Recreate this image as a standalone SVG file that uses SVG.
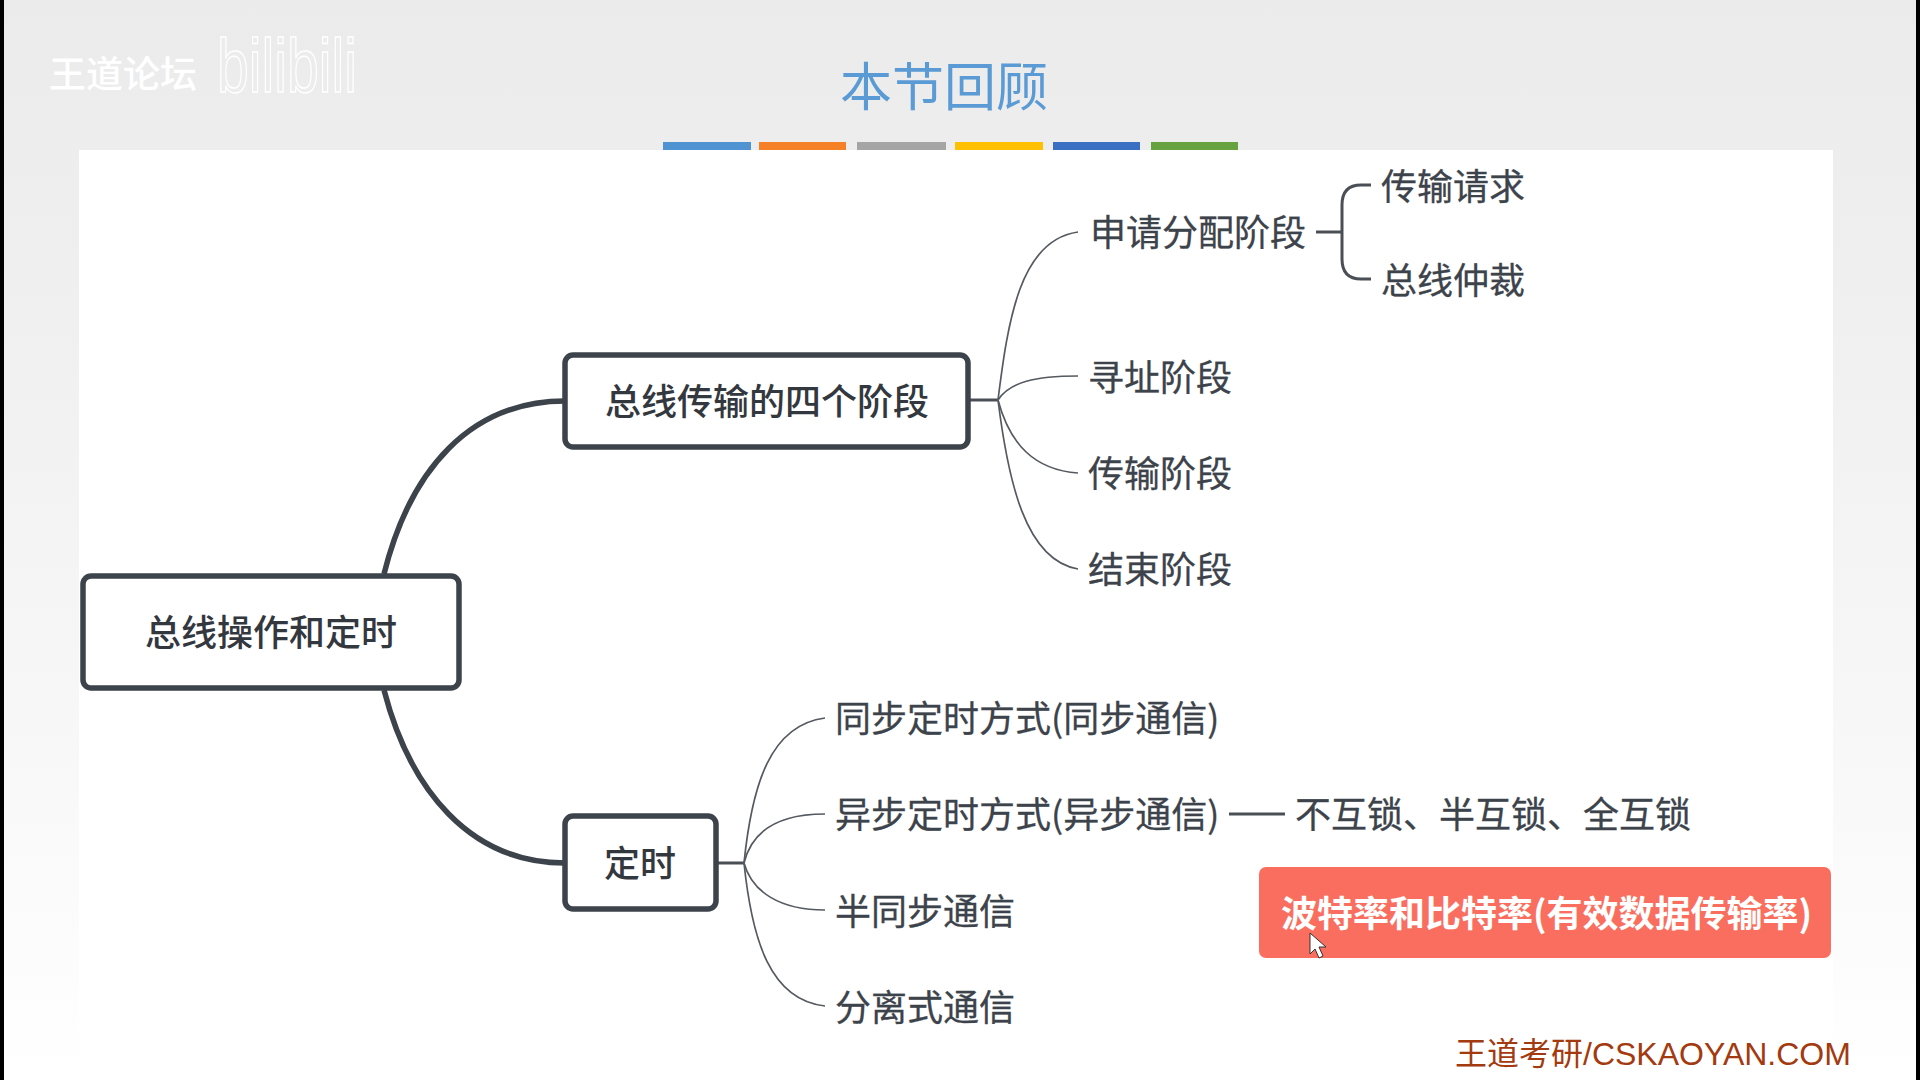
<svg xmlns="http://www.w3.org/2000/svg" width="1920" height="1080" viewBox="0 0 1920 1080">
<defs>
<linearGradient id="bg" x1="0" y1="0" x2="0" y2="1"><stop offset="0" stop-color="#ebebeb"/><stop offset="0.3" stop-color="#f0f0f0"/><stop offset="0.7" stop-color="#f8f8f8"/><stop offset="1" stop-color="#ffffff"/></linearGradient>
</defs>
<style>
text{font-family:"Noto Sans CJK SC","Liberation Sans",sans-serif}
.box{fill:#fff;stroke:#3d434b;stroke-width:5.5}
.main{font-size:36px;font-weight:500;fill:#33383f;text-anchor:middle;dominant-baseline:central}
.leaf{font-size:36px;fill:#3d434b;stroke:#3d434b;stroke-width:0.3;dominant-baseline:central}
.thick{fill:none;stroke:#3d434b;stroke-width:5.5}
.thin{fill:none;stroke:#555a60;stroke-width:1.7}
.mid{fill:none;stroke:#4a4f56;stroke-width:3}
</style>
<rect width="1920" height="1080" fill="url(#bg)"/>
<rect x="79" y="150" width="1754" height="930" fill="#fff"/>
<rect x="0" y="0" width="4" height="1080" fill="#000"/>
<rect x="1916" y="0" width="4" height="1080" fill="#000"/>
<g id="title">
<text x="944" y="83" font-size="52" fill="#5b9bd5" text-anchor="middle" dominant-baseline="central">本节回顾</text>
<rect x="663" y="142" width="88" height="8" fill="#4f93d2"/>
<rect x="759" y="142" width="87" height="8" fill="#f58025"/>
<rect x="857" y="142" width="89" height="8" fill="#a5a5a5"/>
<rect x="955" y="142" width="88" height="8" fill="#ffc000"/>
<rect x="1053" y="142" width="87" height="8" fill="#3a6fc4"/>
<rect x="1151" y="142" width="87" height="8" fill="#66a23f"/>
</g>
<g id="watermark">
<text x="49" y="72" font-size="37" fill="#fff" font-weight="500" dominant-baseline="central">王道论坛</text>
<text x="217" y="92" font-size="76" fill="none" stroke="#fff" stroke-width="1.5" style="font-family:'Liberation Sans',sans-serif" textLength="140" lengthAdjust="spacingAndGlyphs">bilibili</text>
</g>
<g id="connectors">
<path class="thick" d="M384 574C410 470 470 401 565 401"/>
<path class="thick" d="M384 690C410 790 470 863 565 863"/>
<path class="mid" d="M970 400H998"/>
<path class="thin" d="M998 400C1008 320 1020 240 1078 232"/>
<path class="thin" d="M998 400C1010 382 1035 376 1078 376"/>
<path class="thin" d="M998 400C1010 445 1035 470 1078 473"/>
<path class="thin" d="M998 400C1008 480 1025 560 1078 569"/>
<path class="mid" d="M1316 232H1342"/>
<path class="mid" d="M1371 185H1361Q1342 185 1342 205V259Q1342 279 1361 279H1371"/>
<path class="mid" d="M718 863H744"/>
<path class="thin" d="M744 863C752 785 770 725 825 718"/>
<path class="thin" d="M744 863C752 830 780 814 825 814"/>
<path class="thin" d="M744 863C752 892 780 910 825 910"/>
<path class="thin" d="M744 863C752 940 770 1000 825 1006"/>
<path class="mid" d="M1229 814H1285"/>
</g>
<g id="root"><rect class="box" x="83" y="576" width="376" height="112" rx="8"/><text class="main" x="271" y="629.500">总线操作和定时</text></g>
<g id="phases"><rect class="box" x="565" y="355" width="403" height="92" rx="8"/><text class="main" x="767" y="399">总线传输的四个阶段</text></g>
<g id="timing"><rect class="box" x="565" y="816" width="151" height="93" rx="8"/><text class="main" x="640" y="861">定时</text></g>
<g id="n1"><text class="leaf" x="1090" y="230">申请分配阶段</text></g>
<g id="n2"><text class="leaf" x="1381" y="184">传输请求</text></g>
<g id="n3"><text class="leaf" x="1381" y="278">总线仲裁</text></g>
<g id="n4"><text class="leaf" x="1088" y="375">寻址阶段</text></g>
<g id="n5"><text class="leaf" x="1088" y="471">传输阶段</text></g>
<g id="n6"><text class="leaf" x="1088" y="567">结束阶段</text></g>
<g id="n7"><text class="leaf" x="835" y="716">同步定时方式(同步通信)</text></g>
<g id="n8"><text class="leaf" x="835" y="812">异步定时方式(异步通信)</text></g>
<g id="n9"><text class="leaf" x="835" y="909">半同步通信</text></g>
<g id="n10"><text class="leaf" x="835" y="1005">分离式通信</text></g>
<g id="n11"><text class="leaf" x="1295" y="812">不互锁、半互锁、全互锁</text></g>
<g id="highlight"><rect x="1259" y="867" width="572" height="91" rx="7" fill="#f96e5e"/><text x="1281" y="911" font-size="36" font-weight="700" fill="#fff" dominant-baseline="central">波特率和比特率(有效数据传输率)</text></g>
<path id="cursor" d="M1310 933V954L1315 949L1319 958L1323 956L1319 947L1326 947Z" fill="#fff" stroke="#333" stroke-width="1"/>
<text id="footer" x="1455" y="1054" font-size="32" fill="#a33a10" style="font-family:'Liberation Sans','Noto Sans CJK SC',sans-serif" dominant-baseline="central">王道考研/CSKAOYAN.COM</text>
</svg>
